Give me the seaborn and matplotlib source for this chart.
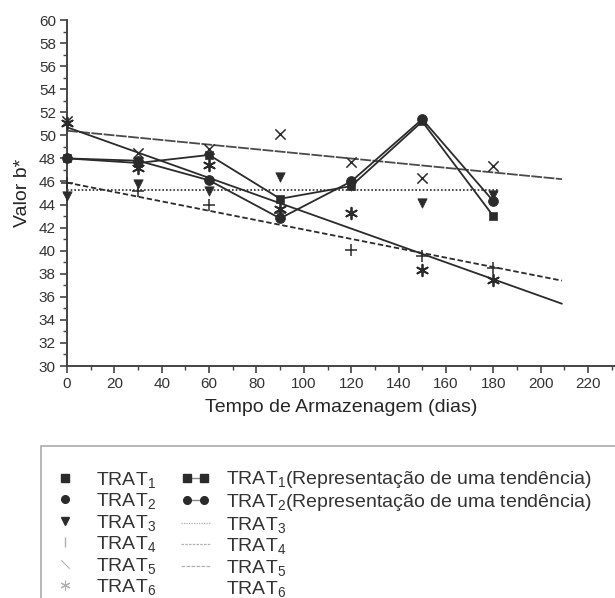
import matplotlib
matplotlib.use('Agg')
import matplotlib.pyplot as plt
from matplotlib.lines import Line2D
from matplotlib.patches import Rectangle
from matplotlib.legend_handler import HandlerLine2D
import seaborn as sns
import pandas as pd

# storage time (days) and b* values per treatment
days = [0, 30, 60, 90, 120, 150, 180]
trat1 = [48.0, 47.6, 48.3, 44.5, 45.6, 51.2, 43.0]
trat2 = [48.0, 47.8, 46.1, 42.8, 46.0, 51.4, 44.3]
trat3 = [44.7, 45.8, 45.2, 46.4, 45.6, 44.1, 44.8]
trat4 = [45.9, 45.2, 44.0, 43.3, 40.1, 39.5, 38.5]
trat5 = [51.2, 48.5, 48.8, 50.1, 47.7, 46.3, 47.3]
trat6 = [51.1, 47.2, 47.4, 43.6, 43.3, 38.3, 37.5]

# fitted lines (start / end values)
fit_x = [0, 209]
fit3_x = [0, 182]
fit3 = [45.3, 45.3]
fit4 = [45.9, 37.4]
fit5 = [50.4, 46.2]
fit6 = [50.7, 35.4]

labels = ['TRAT$\\mathregular{_1}$', 'TRAT$\\mathregular{_2}$', 'TRAT$\\mathregular{_3}$',
          'TRAT$\\mathregular{_4}$', 'TRAT$\\mathregular{_5}$', 'TRAT$\\mathregular{_6}$']
trend_txt = '(Representação de uma tendência)'

df = pd.DataFrame({'dias': days, 'T1': trat1, 'T2': trat2, 'T3': trat3,
                   'T4': trat4, 'T5': trat5, 'T6': trat6})

sns.set_style('ticks')
plt.rcParams['font.family'] = ['Liberation Sans', 'DejaVu Sans']
plt.rcParams['mathtext.fontset'] = 'custom'
plt.rcParams['mathtext.rm'] = 'Liberation Sans'
plt.rcParams['text.color'] = '#333333'

ink = '#2b2b2b'
fig = plt.figure(figsize=(6.15, 5.98), dpi=100)
ax = fig.add_axes([67/615, 1-366/598, 1-67/615, (366-20)/598])

# trend lines
sns.lineplot(x=fit_x, y=fit5, ax=ax, color='#4a4a4a', lw=1.3, linestyle=(0, (6, 0.8)))
sns.lineplot(x=fit_x, y=fit6, ax=ax, color=ink, lw=1.3)
sns.lineplot(x=fit_x, y=fit4, ax=ax, color=ink, lw=1.3, linestyle=(0, (3, 1.5)))
sns.lineplot(x=fit3_x, y=fit3, ax=ax, color=ink, lw=1.2, linestyle=(0, (1, 1.2)))
sns.lineplot(data=df, x='dias', y='T1', ax=ax, color=ink, lw=1.3)
sns.lineplot(data=df, x='dias', y='T2', ax=ax, color=ink, lw=1.3)

# points
kw = dict(ax=ax, color=ink, zorder=3, clip_on=False)
sns.scatterplot(data=df, x='dias', y='T6', marker=(6, 2, 0), s=70, linewidth=1.3, **kw)
sns.scatterplot(data=df, x='dias', y='T5', marker='x', s=55, linewidth=1.1, **kw)
sns.scatterplot(data=df, x='dias', y='T4', marker='+', s=65, linewidth=1.1, **kw)
sns.scatterplot(data=df, x='dias', y='T3', marker='v', s=45, edgecolor=ink, **kw)
sns.scatterplot(data=df, x='dias', y='T2', marker='o', s=50, edgecolor=ink, **kw)
sns.scatterplot(data=df, x='dias', y='T1', marker='s', s=36, edgecolor=ink, **kw)

ax.set_xlim(0, 231.4)
ax.set_ylim(30, 60)
ax.set_xticks(range(0, 221, 20))
ax.set_xticks(range(0, 231, 10), minor=True)
ax.set_yticks(range(30, 61, 2))
ax.set_yticks(range(30, 61, 1), minor=True)
ax.tick_params(which='major', length=5, width=1.2, color='#444444', labelsize=11, labelcolor='#333333', pad=3)
ax.tick_params(which='minor', length=3, width=1.0, color='#444444')
for side in ['top', 'right']:
    ax.spines[side].set_visible(False)
for side in ['left', 'bottom']:
    ax.spines[side].set_color('#444444')
    ax.spines[side].set_linewidth(1.4)
ax.set_xlabel('Tempo de Armazenagem (dias)', fontsize=14, labelpad=6)
ax.set_ylabel('Valor b*', fontsize=14, labelpad=6)

# legend
light = '#b0b0b0'
h_pts = [
    Line2D([], [], ls='none', marker='s', ms=5.5, color=ink),
    Line2D([], [], ls='none', marker='o', ms=5.5, color=ink),
    Line2D([], [], ls='none', marker='v', ms=5.5, color=ink),
    Line2D([], [], ls='none', marker='|', ms=7, color=light),
    Line2D([], [], ls='none', marker=[(-1, 1), (1, -1)], ms=6, color=light, mew=0.8),
    Line2D([], [], ls='none', marker=(6, 2, 0), ms=7, color=light, mew=0.8),
]
h_lines = [
    Line2D([], [], color='#888888', lw=1, marker='s', ms=5.5, mfc=ink, mec=ink, markevery=[1]),
    Line2D([], [], color='#888888', lw=1, marker='o', ms=5.5, mfc=ink, mec=ink, markevery=[1]),
    Line2D([], [], color=light, lw=0.9, ls=(0, (1, 1))),
    Line2D([], [], color=light, lw=0.9, ls=(0, (2, 1))),
    Line2D([], [], color=light, lw=0.9, ls=(0, (3, 1))),
    Line2D([], [], color='white', lw=0.9),
]
hmap = {h_lines[0]: HandlerLine2D(numpoints=2), h_lines[1]: HandlerLine2D(numpoints=2)}
lbl_lines = [labels[0] + trend_txt, labels[1] + trend_txt] + labels[2:]
leg = fig.legend(h_pts + h_lines, labels + lbl_lines, ncol=2, loc='upper left',
                 bbox_to_anchor=(33/615, 1-452/598), frameon=False, fontsize=14,
                 handlelength=1.5, handletextpad=0.85, columnspacing=1.25,
                 labelspacing=0.08, numpoints=1, handler_map=hmap)
fig.patches.append(Rectangle((41/615, -0.05), 0.99, (1-446/598) + 0.05,
                             transform=fig.transFigure, fill=False,
                             edgecolor='#aaaaaa', lw=1.2))

fig.savefig('out.png', dpi=100)
